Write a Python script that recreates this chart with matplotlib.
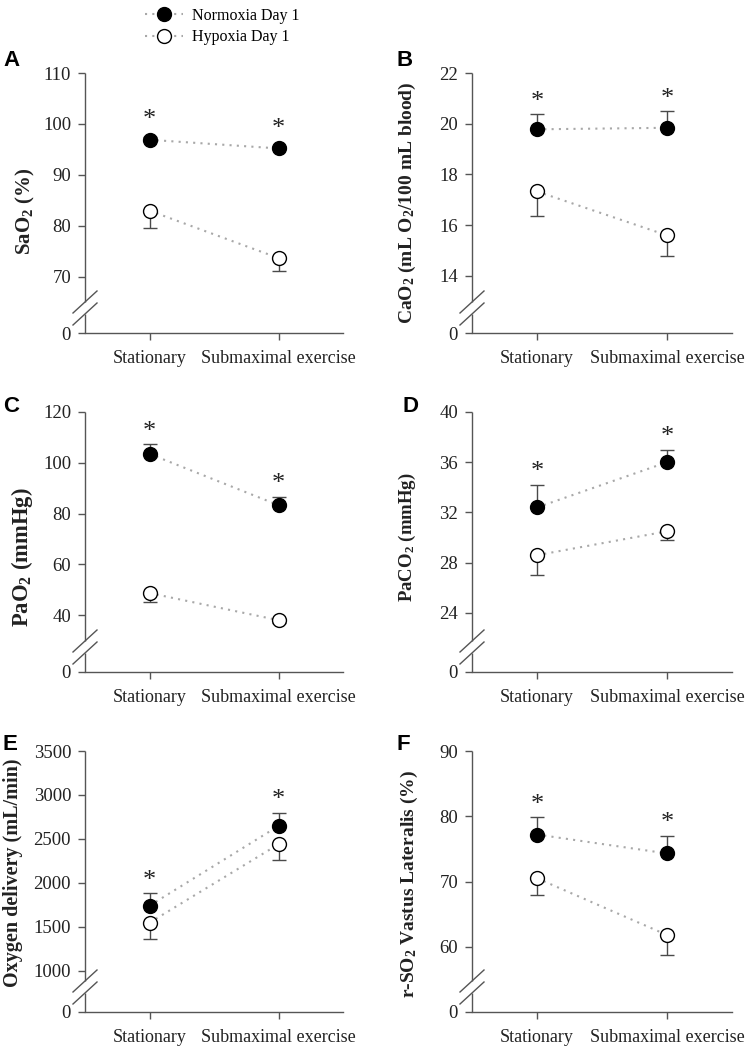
import matplotlib
matplotlib.use("Agg")
import matplotlib.pyplot as plt
from matplotlib.lines import Line2D

plt.rcParams['font.family'] = ['Liberation Serif', 'DejaVu Serif']
plt.rcParams['mathtext.fontset'] = 'custom'
plt.rcParams['mathtext.rm'] = 'Liberation Serif'
plt.rcParams['mathtext.bf'] = 'Liberation Serif:bold'
plt.rcParams['mathtext.it'] = 'Liberation Serif:italic'

# ---------------- data ----------------
conditions = ['Stationary', 'Submaximal exercise']
legend_labels = ['Normoxia Day 1', 'Hypoxia Day 1']
panel_letters = ['A', 'B', 'C', 'D', 'E', 'F']

ylabels = [r'SaO$_\mathbf{2}$ (%)',
           r'CaO$_\mathbf{2}$ (mL O$_\mathbf{2}$/100 mL blood)',
           r'PaO$_\mathbf{2}$ (mmHg)',
           r'PaCO$_\mathbf{2}$ (mmHg)',
           'Oxygen delivery (mL/min)',
           r'r-SO$_\mathbf{2}$ Vastus Lateralis (%)']

sao2_norm = [96.9, 95.2]
sao2_norm_se = [0.5, 0.5]
sao2_hyp = [83.0, 73.7]
sao2_hyp_se = [3.5, 2.5]

cao2_norm = [19.78, 19.84]
cao2_norm_se = [0.6, 0.65]
cao2_hyp = [17.33, 15.6]
cao2_hyp_se = [0.95, 0.83]

pao2_norm = [103.5, 83.3]
pao2_norm_se = [3.9, 3.4]
pao2_hyp = [48.7, 38.0]
pao2_hyp_se = [3.6, 1.0]

paco2_norm = [32.4, 36.0]
paco2_norm_se = [1.8, 1.0]
paco2_hyp = [28.6, 30.5]
paco2_hyp_se = [1.6, 0.7]

do2_norm = [1742, 2648]
do2_norm_se = [141, 151]
do2_hyp = [1549, 2440]
do2_hyp_se = [189, 179]

rso2_norm = [77.2, 74.3]
rso2_norm_se = [2.7, 2.7]
rso2_hyp = [70.5, 61.8]
rso2_hyp_se = [2.6, 3.0]

# y tick values for the upper (unbroken) segment of each axis
yticks_upper = [[70, 80, 90, 100, 110],
                [14, 16, 18, 20, 22],
                [40, 60, 80, 100, 120],
                [24, 28, 32, 36, 40],
                [1000, 1500, 2000, 2500, 3000, 3500],
                [60, 70, 80, 90]]
# where the "0" of the broken axis is drawn (in the panel's data units)
zero_pos = [59.0, 11.75, 17.6, 19.3, 534, 50.0]

panels = [
    (sao2_norm, sao2_norm_se, sao2_hyp, sao2_hyp_se),
    (cao2_norm, cao2_norm_se, cao2_hyp, cao2_hyp_se),
    (pao2_norm, pao2_norm_se, pao2_hyp, pao2_hyp_se),
    (paco2_norm, paco2_norm_se, paco2_hyp, paco2_hyp_se),
    (do2_norm, do2_norm_se, do2_hyp, do2_hyp_se),
    (rso2_norm, rso2_norm_se, rso2_hyp, rso2_hyp_se),
]

# ---------------- layout ----------------
W, H = 750, 1050
fig = plt.figure(figsize=(7.5, 10.5), dpi=100)

col_px = [(85, 343), (472, 732)]
row_px = [(73, 333), (412, 672), (751, 1012)]
letter_px = [(3, 61), (397, 61), (3, 406), (403, 406), (3, 744), (397, 744)]
ylabel_px = [(25, 211), (407, 203), (22, 557), (407, 537), (13, 873), (409, 884)]
ylabel_fs = [15, 14, 16.3, 13.5, 14.5, 14]

spine_col = '#555555'
line_col = '#a8a8a8'
err_col = '#4a4a4a'
ms = 10
x = [0, 1]

for i, (nm, nse, hy, hse) in enumerate(panels):
    r, c = divmod(i, 2)
    x0, x1 = col_px[c]
    y0, y1 = row_px[r]
    ax = fig.add_axes([x0 / W, 1 - y1 / H, (x1 - x0) / W, (y1 - y0) / H])
    axw, axh = x1 - x0, y1 - y0

    ticks = yticks_upper[i]
    ax.set_ylim(zero_pos[i], ticks[-1])
    ax.set_xlim(-0.5, 1.5)
    ax.set_yticks([zero_pos[i]] + ticks)
    ax.set_yticklabels(['0'] + [str(t) for t in ticks])
    ax.set_xticks(x)
    ax.set_xticklabels(conditions)

    for s in ['top', 'right', 'left']:
        ax.spines[s].set_visible(False)
    ax.spines['bottom'].set_color(spine_col)
    ax.spines['bottom'].set_linewidth(1.0)
    ax.tick_params(direction='out', length=5, width=1.0, color=spine_col,
                   labelcolor='#222222')
    ax.tick_params(axis='y', pad=5, labelsize=13.5)
    ax.tick_params(axis='x', pad=7, labelsize=13)

    # broken left axis
    gap_c = 25 / axh
    gap_h = 6 / axh
    ax.plot([0, 0], [0, gap_c - gap_h], transform=ax.transAxes, color=spine_col,
            lw=1.0, clip_on=False, solid_capstyle='butt')
    ax.plot([0, 0], [gap_c + gap_h, 1], transform=ax.transAxes, color=spine_col,
            lw=1.0, clip_on=False, solid_capstyle='butt')
    dx, dy = 12 / axw, 11 / axh
    for yc in (gap_c - gap_h, gap_c + gap_h):
        ax.plot([-dx, dx], [yc - dy, yc + dy], transform=ax.transAxes,
                color=spine_col, lw=1.0, clip_on=False)

    # dotted connecting lines
    ax.plot(x, nm, ls=(0, (1, 2.5)), color=line_col, lw=1.5, zorder=2)
    ax.plot(x, hy, ls=(0, (1, 2.5)), color=line_col, lw=1.5, zorder=2)

    # one-sided error bars
    ax.errorbar(x, nm, yerr=[[0, 0], nse], fmt='none', ecolor=err_col,
                elinewidth=1.0, capsize=5, capthick=1.0, zorder=3)
    ax.errorbar(x, hy, yerr=[hse, [0, 0]], fmt='none', ecolor=err_col,
                elinewidth=1.0, capsize=5, capthick=1.0, zorder=3)

    ax.plot(x, nm, ls='none', marker='o', ms=ms, mfc='black', mec='black',
            mew=1.0, zorder=4)
    ax.plot(x, hy, ls='none', marker='o', ms=ms, mfc='white', mec='black',
            mew=1.0, zorder=4)

    # significance asterisks
    for xi, v, e in zip(x, nm, nse):
        top_err = ax.transData.transform((xi, v + e))[1]
        top_mk = ax.transData.transform((xi, v))[1] + 7
        ytop = max(top_err, top_mk)
        ydata = ax.transData.inverted().transform((0, ytop))[1]
        ax.annotate('*', xy=(xi, ydata), xytext=(0, 1), textcoords='offset points',
                    ha='center', va='bottom', fontsize=19, color='#222222')

    # y label
    lx, ly = ylabel_px[i]
    ax.text((lx - x0) / axw, (y1 - ly) / axh, ylabels[i], transform=ax.transAxes,
            rotation=90, ha='center', va='center', fontsize=ylabel_fs[i],
            fontweight='bold', color='#222222')

    # panel letter
    px_, py_ = letter_px[i]
    fig.text(px_ / W, 1 - py_ / H, panel_letters[i], ha='left', va='center',
             fontsize=16, fontweight='bold', family='Liberation Sans')

# legend
handles = [Line2D([], [], ls=(0, (1, 2.5)), color=line_col, lw=1.5, marker='o',
                  ms=ms, mfc='black', mec='black'),
           Line2D([], [], ls=(0, (1, 2.5)), color=line_col, lw=1.5, marker='o',
                  ms=ms, mfc='white', mec='black')]
fig.legend(handles, legend_labels, loc='upper left', bbox_to_anchor=(135 / W, 1 + 2 / H),
           frameon=False, fontsize=11.5, handlelength=2.4, handletextpad=0.55,
           labelspacing=0.35, borderpad=0.1)

fig.savefig('out.png', dpi=100)
